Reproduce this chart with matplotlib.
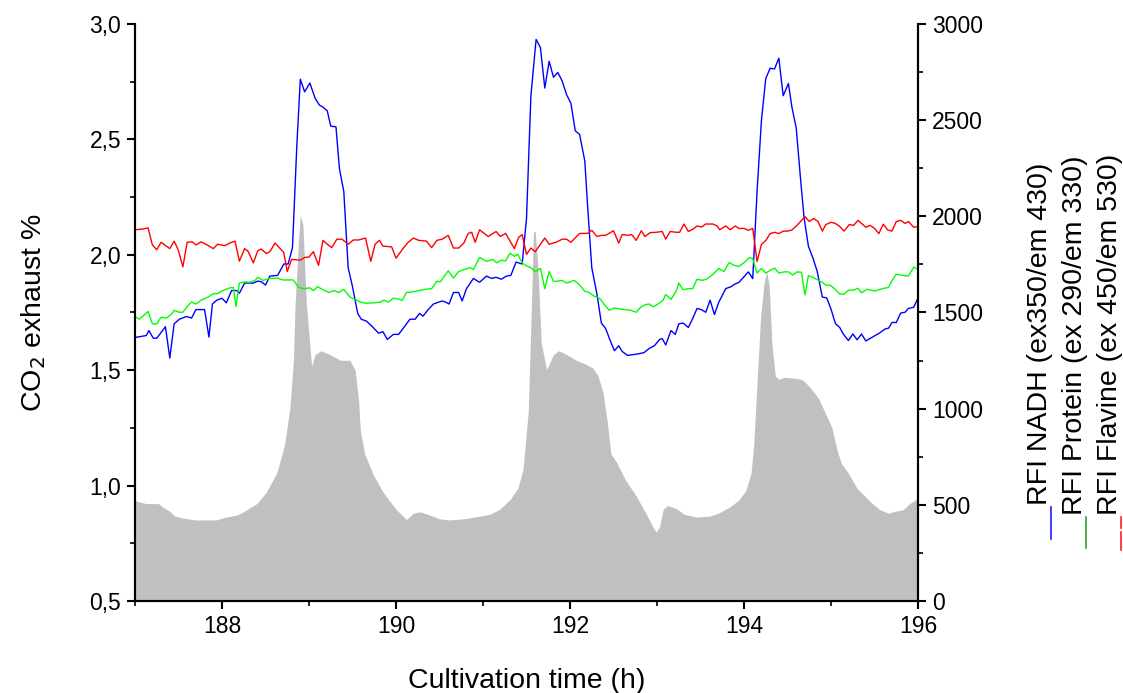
import numpy as np
import matplotlib
matplotlib.use("Agg")
import matplotlib.pyplot as plt
from matplotlib.lines import Line2D
from matplotlib.ticker import MultipleLocator, FuncFormatter

plt.rcParams['font.family'] = ['Liberation Sans', 'DejaVu Sans']

# CO2 exhaust (%), left axis
co2_t = [187.00, 187.06, 187.13, 187.27, 187.32, 187.40, 187.45, 187.55, 187.70, 187.93,
         188.05, 188.17, 188.26, 188.40, 188.51, 188.63, 188.72, 188.78, 188.82, 188.84,
         188.88, 188.90, 188.93, 188.97, 189.03, 189.07, 189.14, 189.24, 189.36, 189.47,
         189.53, 189.57, 189.59, 189.64, 189.74, 189.85, 190.00, 190.12, 190.20, 190.28,
         190.39, 190.50, 190.62, 190.78, 190.96, 191.08, 191.19, 191.31, 191.40, 191.46,
         191.52, 191.55, 191.58, 191.60, 191.63, 191.67, 191.73, 191.76, 191.81, 191.87,
         191.96, 192.07, 192.18, 192.26, 192.32, 192.38, 192.43, 192.47, 192.53, 192.64,
         192.76, 192.87, 192.95, 192.99, 193.03, 193.07, 193.12, 193.22, 193.31, 193.45,
         193.60, 193.71, 193.83, 193.94, 194.02, 194.08, 194.11, 194.15, 194.19, 194.23,
         194.26, 194.29, 194.32, 194.36, 194.40, 194.46, 194.59, 194.66, 194.70, 194.78,
         194.86, 194.93, 195.01, 195.07, 195.12, 195.20, 195.30, 195.39, 195.47, 195.56,
         195.66, 195.73, 195.83, 195.90, 196.00]
co2 = [0.935, 0.928, 0.922, 0.922, 0.906, 0.889, 0.869, 0.859, 0.851, 0.851,
       0.864, 0.872, 0.889, 0.922, 0.972, 1.055, 1.179, 1.336, 1.535, 1.783,
       2.065, 2.172, 2.130, 1.783, 1.518, 1.568, 1.584, 1.568, 1.543, 1.543,
       1.500, 1.370, 1.237, 1.137, 1.046, 0.972, 0.897, 0.853, 0.881, 0.886,
       0.872, 0.856, 0.851, 0.856, 0.867, 0.876, 0.897, 0.939, 0.988, 1.071,
       1.320, 1.700, 2.100, 2.100, 1.950, 1.617, 1.502, 1.526, 1.568, 1.584,
       1.568, 1.543, 1.526, 1.510, 1.477, 1.402, 1.270, 1.137, 1.104, 1.022,
       0.955, 0.881, 0.823, 0.798, 0.823, 0.897, 0.914, 0.900, 0.876, 0.864,
       0.867, 0.881, 0.906, 0.937, 0.978, 1.053, 1.168, 1.449, 1.729, 1.878,
       1.930, 1.861, 1.614, 1.474, 1.460, 1.469, 1.465, 1.460, 1.449, 1.416,
       1.375, 1.317, 1.251, 1.152, 1.094, 1.053, 0.987, 0.954, 0.924, 0.896,
       0.880, 0.888, 0.896, 0.921, 0.946]

# RFI NADH, right axis
nadh_t = [187.00, 187.13, 187.16, 187.21, 187.25, 187.30, 187.35, 187.40, 187.45, 187.51,
          187.59, 187.65, 187.70, 187.80, 187.85, 187.89, 187.94, 188.00, 188.05, 188.11,
          188.17, 188.20, 188.26, 188.36, 188.41, 188.45, 188.50, 188.55, 188.64, 188.71,
          188.76, 188.81, 188.86, 188.90, 188.95, 189.01, 189.07, 189.12, 189.16, 189.21,
          189.25, 189.31, 189.35, 189.40, 189.45, 189.50, 189.56, 189.60, 189.66, 189.72,
          189.80, 189.85, 189.90, 189.97, 190.03, 190.08, 190.16, 190.22, 190.27, 190.31,
          190.37, 190.43, 190.53, 190.57, 190.61, 190.66, 190.72, 190.76, 190.81, 190.89,
          190.96, 191.04, 191.10, 191.15, 191.21, 191.27, 191.32, 191.38, 191.45, 191.50,
          191.55, 191.61, 191.66, 191.71, 191.76, 191.81, 191.86, 191.91, 191.96, 192.01,
          192.06, 192.11, 192.17, 192.20, 192.25, 192.31, 192.36, 192.41, 192.46, 192.51,
          192.56, 192.60, 192.66, 192.76, 192.85, 192.91, 192.97, 193.03, 193.06, 193.10,
          193.16, 193.21, 193.25, 193.30, 193.36, 193.41, 193.46, 193.51, 193.56, 193.61,
          193.66, 193.71, 193.79, 193.85, 193.90, 193.94, 194.00, 194.05, 194.10, 194.15,
          194.20, 194.25, 194.30, 194.35, 194.40, 194.45, 194.51, 194.55, 194.60, 194.65,
          194.69, 194.74, 194.79, 194.84, 194.90, 194.95, 195.00, 195.05, 195.10, 195.14,
          195.20, 195.25, 195.30, 195.35, 195.40, 195.46, 195.51, 195.56, 195.62, 195.66,
          195.70, 195.75, 195.80, 195.85, 195.89, 195.95, 196.00]
nadh = [1370, 1380, 1406, 1366, 1366, 1396, 1426, 1263, 1441, 1465,
        1479, 1471, 1515, 1515, 1372, 1544, 1564, 1574, 1550, 1614,
        1614, 1600, 1653, 1653, 1663, 1660, 1643, 1689, 1693, 1752,
        1752, 1837, 2366, 2713, 2647, 2693, 2614, 2578, 2568, 2548,
        2469, 2465, 2247, 2129, 1733, 1634, 1495, 1465, 1455, 1430,
        1392, 1400, 1360, 1386, 1386, 1416, 1465, 1465, 1495, 1481,
        1515, 1544, 1560, 1554, 1544, 1604, 1604, 1560, 1624, 1677,
        1657, 1689, 1677, 1683, 1673, 1689, 1693, 1762, 1752, 1990,
        2624, 2920, 2877, 2667, 2806, 2723, 2748, 2703, 2633, 2588,
        2445, 2426, 2287, 2069, 1733, 1594, 1445, 1416, 1356, 1301,
        1327, 1297, 1277, 1283, 1291, 1313, 1327, 1360, 1364, 1331,
        1406, 1386, 1441, 1445, 1422, 1469, 1521, 1515, 1501, 1564,
        1489, 1554, 1624, 1634, 1649, 1656, 1686, 1711, 1676, 2132,
        2499, 2717, 2770, 2766, 2822, 2627, 2691, 2568, 2459, 2191,
        1993, 1844, 1785, 1715, 1580, 1576, 1517, 1442, 1422, 1388,
        1354, 1388, 1358, 1388, 1352, 1368, 1382, 1394, 1414, 1418,
        1448, 1448, 1497, 1501, 1521, 1527, 1576]

# RFI Protein
protein_t = [187.00, 187.05, 187.15, 187.20, 187.25, 187.30, 187.36, 187.42, 187.45, 187.51,
             187.55, 187.60, 187.65, 187.70, 187.76, 187.84, 187.90, 187.95, 188.01, 188.09,
             188.13, 188.16, 188.20, 188.26, 188.32, 188.38, 188.41, 188.47, 188.55, 188.64,
             188.70, 188.76, 188.82, 188.88, 188.94, 189.01, 189.05, 189.10, 189.16, 189.23,
             189.29, 189.34, 189.40, 189.47, 189.53, 189.59, 189.65, 189.74, 189.82, 189.86,
             189.91, 189.97, 190.03, 190.07, 190.12, 190.20, 190.27, 190.33, 190.41, 190.47,
             190.51, 190.60, 190.66, 190.72, 190.78, 190.85, 190.89, 190.96, 191.04, 191.11,
             191.16, 191.21, 191.26, 191.31, 191.36, 191.40, 191.45, 191.50, 191.55, 191.60,
             191.66, 191.71, 191.76, 191.81, 191.86, 191.91, 191.96, 192.05, 192.11, 192.17,
             192.22, 192.28, 192.34, 192.39, 192.45, 192.51, 192.57, 192.64, 192.70, 192.76,
             192.82, 192.87, 192.91, 192.96, 193.03, 193.07, 193.10, 193.16, 193.22, 193.25,
             193.30, 193.36, 193.41, 193.46, 193.52, 193.57, 193.64, 193.71, 193.77, 193.83,
             193.88, 193.94, 194.00, 194.06, 194.10, 194.15, 194.20, 194.25, 194.30, 194.35,
             194.40, 194.46, 194.51, 194.56, 194.61, 194.66, 194.70, 194.74, 194.79, 194.84,
             194.90, 194.94, 194.99, 195.05, 195.10, 195.15, 195.20, 195.26, 195.31, 195.35,
             195.41, 195.46, 195.51, 195.56, 195.61, 195.66, 195.70, 195.75, 195.80, 195.85,
             195.89, 195.95, 196.00]
protein = [1479, 1465, 1505, 1441, 1441, 1475, 1471, 1491, 1511, 1501,
           1501, 1531, 1554, 1544, 1564, 1580, 1598, 1598, 1614, 1628,
           1630, 1531, 1653, 1659, 1657, 1667, 1683, 1667, 1677, 1679,
           1669, 1669, 1669, 1630, 1624, 1628, 1614, 1634, 1618, 1604,
           1614, 1604, 1620, 1580, 1568, 1554, 1548, 1550, 1554, 1564,
           1554, 1574, 1570, 1562, 1604, 1608, 1614, 1620, 1624, 1663,
           1659, 1717, 1679, 1713, 1723, 1733, 1723, 1786, 1766, 1776,
           1758, 1772, 1768, 1808, 1792, 1802, 1758, 1742, 1733, 1713,
           1729, 1624, 1713, 1661, 1663, 1667, 1653, 1667, 1643, 1610,
           1604, 1584, 1574, 1544, 1511, 1523, 1519, 1515, 1511, 1501,
           1531, 1541, 1544, 1529, 1550, 1564, 1594, 1568, 1610, 1653,
           1618, 1624, 1624, 1673, 1667, 1673, 1697, 1729, 1713, 1760,
           1746, 1739, 1759, 1785, 1779, 1705, 1729, 1705, 1719, 1731,
           1705, 1711, 1711, 1695, 1711, 1709, 1592, 1691, 1683, 1671,
           1656, 1642, 1642, 1620, 1596, 1596, 1616, 1616, 1626, 1602,
           1620, 1616, 1612, 1620, 1626, 1630, 1666, 1699, 1695, 1691,
           1690, 1735, 1725]

# RFI Flavine
flavine_t = [187.00, 187.09, 187.15, 187.20, 187.25, 187.30, 187.40, 187.45, 187.50, 187.55,
             187.60, 187.66, 187.70, 187.76, 187.83, 187.90, 187.95, 188.03, 188.09, 188.15,
             188.20, 188.26, 188.30, 188.36, 188.41, 188.45, 188.51, 188.55, 188.61, 188.66,
             188.71, 188.75, 188.80, 188.90, 188.95, 189.00, 189.05, 189.11, 189.16, 189.21,
             189.26, 189.32, 189.38, 189.45, 189.51, 189.57, 189.65, 189.71, 189.76, 189.81,
             189.85, 189.95, 190.00, 190.08, 190.14, 190.20, 190.26, 190.35, 190.41, 190.47,
             190.53, 190.60, 190.66, 190.72, 190.78, 190.83, 190.87, 190.91, 190.96, 191.06,
             191.15, 191.20, 191.26, 191.31, 191.36, 191.41, 191.45, 191.50, 191.55, 191.60,
             191.71, 191.76, 191.84, 191.91, 191.96, 192.01, 192.11, 192.20, 192.25, 192.31,
             192.36, 192.41, 192.50, 192.56, 192.60, 192.66, 192.71, 192.76, 192.82, 192.86,
             192.92, 192.99, 193.06, 193.10, 193.15, 193.22, 193.26, 193.31, 193.36, 193.42,
             193.46, 193.51, 193.56, 193.64, 193.69, 193.72, 193.79, 193.84, 193.90, 193.94,
             194.00, 194.05, 194.10, 194.15, 194.20, 194.25, 194.30, 194.35, 194.40, 194.45,
             194.50, 194.55, 194.60, 194.65, 194.70, 194.75, 194.80, 194.85, 194.90, 194.94,
             195.00, 195.05, 195.10, 195.15, 195.21, 195.26, 195.31, 195.35, 195.40, 195.45,
             195.50, 195.55, 195.60, 195.65, 195.70, 195.75, 195.80, 195.85, 195.89, 195.95,
             196.00]
flavine = [1930, 1934, 1940, 1851, 1826, 1865, 1832, 1871, 1822, 1737,
           1865, 1867, 1851, 1867, 1851, 1832, 1855, 1847, 1861, 1871,
           1767, 1832, 1818, 1758, 1820, 1830, 1806, 1816, 1861, 1836,
           1812, 1713, 1776, 1772, 1786, 1788, 1816, 1745, 1875, 1855,
           1837, 1881, 1881, 1855, 1877, 1877, 1887, 1766, 1855, 1875,
           1845, 1841, 1782, 1832, 1865, 1887, 1875, 1871, 1837, 1875,
           1881, 1901, 1835, 1835, 1861, 1911, 1917, 1865, 1930, 1895,
           1921, 1895, 1911, 1871, 1832, 1891, 1905, 1802, 1835, 1816,
           1887, 1855, 1865, 1881, 1881, 1865, 1911, 1911, 1927, 1895,
           1901, 1901, 1925, 1861, 1905, 1901, 1905, 1875, 1925, 1895,
           1915, 1917, 1921, 1881, 1921, 1917, 1917, 1960, 1921, 1935,
           1950, 1944, 1960, 1960, 1950, 1930, 1950, 1930, 1950, 1937,
           1937, 1927, 1937, 1765, 1854, 1874, 1910, 1917, 1910, 1923,
           1923, 1929, 1949, 1973, 1999, 1973, 1989, 1973, 1923, 1957,
           1969, 1963, 1947, 1923, 1957, 1953, 1979, 1963, 1943, 1953,
           1937, 1910, 1959, 1929, 1923, 1973, 1979, 1963, 1973, 1943,
           1947]

legend_labels = ["RFI NADH (ex350/em 430)", "RFI Protein (ex 290/em 330)",
                 "RFI Flavine (ex 450/em 530)"]
legend_colors = ["#2020ff", "#30a030", "#ff2020"]

fig = plt.figure(figsize=(11.23, 6.93), dpi=100)
ax = fig.add_axes([0.1202, 0.1328, 0.6973, 0.8326])
ax2 = ax.twinx()

ax.fill_between(co2_t, 0.5, co2, color="#c0c0c0", linewidth=0)
ax2.plot(nadh_t, nadh, color="#0000ff", lw=1.0)
ax2.plot(protein_t, protein, color="#00ff00", lw=1.0)
ax2.plot(flavine_t, flavine, color="#ff0000", lw=1.0)

ax.set_xlim(187, 196)
ax.set_ylim(0.5, 3.0)
ax2.set_ylim(0, 3000)

ax.xaxis.set_major_locator(MultipleLocator(2))
ax.xaxis.set_minor_locator(MultipleLocator(1))
ax.yaxis.set_major_locator(MultipleLocator(0.5))
ax.yaxis.set_minor_locator(MultipleLocator(0.25))
ax.yaxis.set_major_formatter(FuncFormatter(lambda v, p: f"{v:.1f}".replace(".", ",")))
ax2.yaxis.set_major_locator(MultipleLocator(500))
ax2.yaxis.set_minor_locator(MultipleLocator(250))

for a in (ax, ax2):
    for s in a.spines.values():
        s.set_linewidth(1.5)
    a.spines['top'].set_visible(False)
    a.tick_params(which='major', direction='out', length=6, width=1.5, labelsize=16.5, pad=4)
    a.tick_params(which='minor', direction='out', length=3.5, width=1.2)

ax.set_xlabel("Cultivation time (h)", fontsize=20.5, labelpad=22)
ax.set_ylabel("CO$_2$ exhaust %", fontsize=20.5, labelpad=30)

# vertical legend on the right (text bottom y, line span in pixels from top)
H = 693.0
text_x = [1040, 1075, 1110]
text_bottom = [505, 515, 515]
line_x = [1051, 1086, 1121]
line_span = [(507, 539), (517, 548), (517, 550)]
for i, lab in enumerate(legend_labels):
    fig.text(text_x[i] / 1123, 1 - text_bottom[i] / H, lab, rotation=90,
             ha='center', va='bottom', fontsize=20.5)
    y0, y1 = line_span[i]
    if i == 2:
        segs = [(y0, 528), (532, y1)]
    else:
        segs = [(y0, y1)]
    for a0, a1 in segs:
        fig.add_artist(Line2D([line_x[i] / 1123] * 2, [1 - a0 / H, 1 - a1 / H],
                              color=legend_colors[i], lw=1.2, transform=fig.transFigure))

fig.savefig("out.png", dpi=100)
